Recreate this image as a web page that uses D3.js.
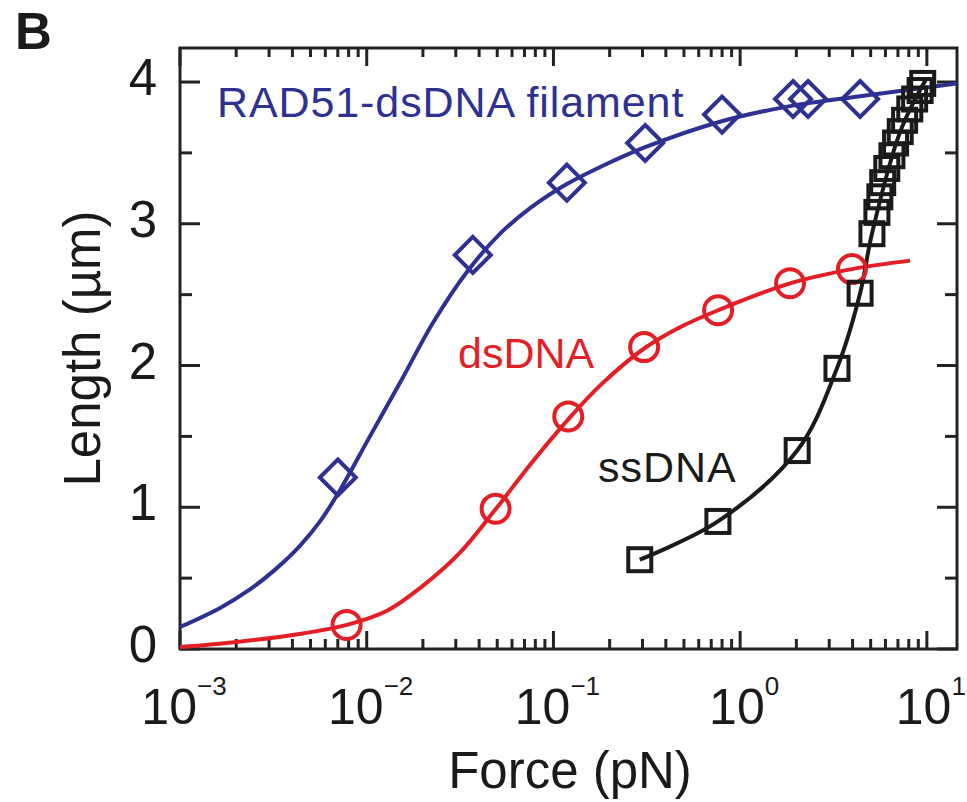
<!DOCTYPE html>
<meta charset="utf-8" />
<title>Force-extension curves</title>
<style>
  body { margin: 0; background: #fff; }
  text { font-family: "Liberation Sans", Arial, sans-serif; fill: #1a1a1a; }
  .fit { fill: none; stroke-width: 4px; }
  .mark { fill: none; stroke-width: 4px; }
  .frame { fill: none; stroke: #222; stroke-width: 3px; }
  .tick line { stroke: #222; stroke-width: 3px; }
</style>
<body>
<svg width="967" height="802"></svg>
<script src="https://d3js.org/d3.v7.min.js"></script>
<script>
const width = 967, height = 802;
const svg = d3.select("svg");

// measured points (force in pN, length in um)
const rad51Force = [0.0070, 0.037, 0.118, 0.31, 0.80, 1.92, 2.31, 4.39];
const rad51Len   = [1.21, 2.78, 3.29, 3.57, 3.77, 3.88, 3.88, 3.88];

const dsForce = [0.0078, 0.049, 0.120, 0.306, 0.762, 1.85, 3.97];
const dsLen   = [0.17, 0.99, 1.64, 2.13, 2.39, 2.58, 2.68];

const ssForce = [0.29, 0.76, 2.02, 3.30, 4.39, 5.08, 5.4, 5.6, 5.8, 6.1, 6.5, 6.8, 7.2, 7.6, 8.1, 8.6, 9.2, 9.5];
const ssLen   = [0.63, 0.90, 1.40, 1.98, 2.51, 2.93, 3.08, 3.19, 3.29, 3.39, 3.48, 3.57, 3.65, 3.73, 3.81, 3.88, 3.94, 3.99];

// fitted curves
const rad51FitForce = [0.001, 0.00164, 0.00237, 0.00323, 0.00440, 0.00562, 0.00719, 0.0104, 0.0151, 0.0226, 0.0344, 0.0518, 0.075, 0.118, 0.178, 0.31, 0.78, 1.85, 4.39, 14.5];
const rad51FitLen   = [0.155, 0.29, 0.42, 0.56, 0.73, 0.90, 1.12, 1.50, 1.88, 2.30, 2.66, 2.93, 3.11, 3.28, 3.40, 3.54, 3.72, 3.83, 3.90, 3.99];

const dsFitForce = [0.001, 0.00202, 0.00456, 0.00783, 0.01285, 0.0193, 0.0316, 0.0486, 0.075, 0.120, 0.178, 0.306, 0.476, 0.762, 1.85, 3.97, 8.13];
const dsFitLen   = [0.014, 0.05, 0.11, 0.17, 0.27, 0.43, 0.68, 0.98, 1.30, 1.62, 1.86, 2.12, 2.27, 2.39, 2.58, 2.68, 2.74];

const ssFitForce = [0.29, 0.76, 2.02, 3.30, 4.39, 5.08, 7.2, 10.0];
const ssFitLen   = [0.63, 0.90, 1.40, 1.98, 2.51, 2.93, 3.65, 4.03];

const yMajor = [0, 1, 2, 3, 4];
const yMinor = [0.5, 1.5, 2.5, 3.5];
const xMajorExp = [-3, -2, -1, 0, 1];

const blue = "#2e3192", red = "#e31e25", black = "#1a1a1a";

const pL = 180, pR = 957, pT = 48, pB = 649;
const x = d3.scaleLog().domain([1e-3, 14.5]).range([pL, pR]);
const y = d3.scaleLinear().domain([0, 4.24]).range([pB, pT]);

const xTicks = [];
xMajorExp.forEach(e => {
  for (let m = 1; m <= 9; m++) {
    const v = m * Math.pow(10, e);
    if (v <= x.domain()[1]) xTicks.push({ v, major: m === 1 });
  }
});
const yTicks = yMajor.map(v => ({ v, major: true })).concat(yMinor.map(v => ({ v, major: false })));

// ticks (inward on all four sides)
const tickG = svg.append("g").attr("class", "tick");
tickG.append("g").selectAll("line").data(xTicks).join("line")
  .attr("x1", d => x(d.v)).attr("x2", d => x(d.v))
  .attr("y1", pB).attr("y2", d => pB - (d.major ? 18 : 10));
tickG.append("g").selectAll("line").data(xTicks).join("line")
  .attr("x1", d => x(d.v)).attr("x2", d => x(d.v))
  .attr("y1", pT).attr("y2", d => pT + (d.major ? 18 : 9));
tickG.append("g").selectAll("line").data(yTicks).join("line")
  .attr("y1", d => y(d.v)).attr("y2", d => y(d.v))
  .attr("x1", pL).attr("x2", d => pL + (d.major ? 20 : 12));
tickG.append("g").selectAll("line").data(yTicks).join("line")
  .attr("y1", d => y(d.v)).attr("y2", d => y(d.v))
  .attr("x1", pR).attr("x2", d => pR - (d.major ? 20 : 12));

svg.append("rect").attr("class", "frame")
  .attr("x", pL).attr("y", pT)
  .attr("width", pR - pL).attr("height", pB - pT);

// tick labels
const xl = svg.append("g").selectAll("text").data(xMajorExp).join("text")
  .attr("x", d => x(Math.pow(10, d)) + 4)
  .attr("y", 724)
  .attr("text-anchor", "middle")
  .style("font-size", "50px");
xl.append("tspan").text("10");
xl.append("tspan").attr("dy", -29).style("font-size", "26px")
  .text(d => d < 0 ? "\u2212" + Math.abs(d) : d);

svg.append("g").selectAll("text").data(yMajor).join("text")
  .attr("x", 157).attr("y", d => y(d) + 13)
  .attr("text-anchor", "end")
  .style("font-size", "51px")
  .text(d => d);

// axis titles
svg.append("text").attr("x", 570).attr("y", 788)
  .attr("text-anchor", "middle").style("font-size", "51px")
  .text("Force (pN)");
svg.append("text")
  .attr("transform", `translate(100,${(pT + pB) / 2}) rotate(-90)`)
  .attr("text-anchor", "middle").style("font-size", "51px")
  .text("Length (\u00b5m)");

svg.append("text").attr("x", 15).attr("y", 49)
  .style("font-size", "51px").style("font-weight", "bold")
  .text("B");

// curves
const plot = svg.append("g");
plot.append("clipPath").attr("id", "clip").append("rect")
  .attr("x", pL).attr("y", pT).attr("width", pR - pL).attr("height", pB - pT);
const curves = plot.append("g").attr("clip-path", "url(#clip)");
const line = d3.line().x(d => x(d[0])).y(d => y(d[1])).curve(d3.curveCatmullRom.alpha(0.5));

curves.append("path").attr("class", "fit").attr("stroke", blue)
  .attr("d", line(d3.zip(rad51FitForce, rad51FitLen)));
curves.append("path").attr("class", "fit").attr("stroke", red)
  .attr("d", line(d3.zip(dsFitForce, dsFitLen)));
curves.append("path").attr("class", "fit").attr("stroke", black)
  .attr("d", line(d3.zip(ssFitForce, ssFitLen)));

// markers
plot.append("g").selectAll("path").data(d3.zip(rad51Force, rad51Len)).join("path")
  .attr("class", "mark").attr("stroke", blue)
  .attr("transform", d => `translate(${x(d[0])},${y(d[1])})`)
  .attr("d", "M0,-18L18,0L0,18L-18,0Z");
plot.append("g").selectAll("circle").data(d3.zip(dsForce, dsLen)).join("circle")
  .attr("class", "mark").attr("stroke", red)
  .attr("cx", d => x(d[0])).attr("cy", d => y(d[1])).attr("r", 14);
plot.append("g").selectAll("rect").data(d3.zip(ssForce, ssLen)).join("rect")
  .attr("class", "mark").attr("stroke", black)
  .attr("x", d => x(d[0]) - 11.5).attr("y", d => y(d[1]) - 11.5)
  .attr("width", 23).attr("height", 23);

// series labels
svg.append("text").attr("x", 217).attr("y", 117)
  .style("font-size", "43px").style("letter-spacing", "0.9px").style("fill", blue)
  .text("RAD51-dsDNA filament");
svg.append("text").attr("x", 458).attr("y", 368)
  .style("font-size", "43px").style("fill", red)
  .text("dsDNA");
svg.append("text").attr("x", 598).attr("y", 482)
  .style("font-size", "43px").style("letter-spacing", "1px").style("fill", black)
  .text("ssDNA");
</script>
</body>
